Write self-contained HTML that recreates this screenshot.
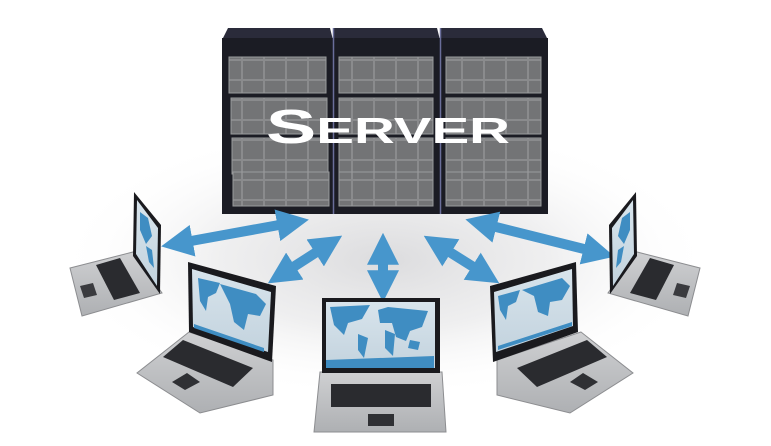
<!DOCTYPE html>
<html><head><meta charset="utf-8"><style>
html,body{margin:0;padding:0;background:#fff;}
svg{display:block;}
</style></head><body>
<svg width="771" height="446" viewBox="0 0 771 446" xmlns="http://www.w3.org/2000/svg">
<defs>
<radialGradient id="floor" cx="0.5" cy="0.5" r="0.5">
<stop offset="0" stop-color="#dcdcde" stop-opacity="1"/><stop offset="0.5" stop-color="#ebebec" stop-opacity="0.8"/><stop offset="1" stop-color="#ffffff" stop-opacity="0"/>
</radialGradient>
<linearGradient id="scr" x1="0" y1="0" x2="0" y2="1"><stop offset="0" stop-color="#d8e4ec"/><stop offset="1" stop-color="#c3d3de"/></linearGradient>
<linearGradient id="base" x1="0" y1="0" x2="0" y2="1"><stop offset="0" stop-color="#cfd0d2"/><stop offset="1" stop-color="#aeb0b3"/></linearGradient>
<pattern id="dr" width="22" height="20" patternUnits="userSpaceOnUse"><rect width="22" height="20" fill="#8a8b8d"/><rect x="1" y="1" width="20" height="18" fill="#737476"/></pattern>
<marker id="ah" viewBox="0 0 10 10" refX="4" refY="5" markerWidth="3.2" markerHeight="3.2" orient="auto-start-reverse"><path d="M0,0 L10,5 L0,10 z" fill="#4796cc"/></marker>
</defs>
<rect width="771" height="446" fill="#fff"/>
<ellipse cx="385" cy="260" rx="330" ry="140" fill="url(#floor)"/>
<!-- server -->
<g>
<polygon points="228,28 330,28 333,40 222,40" fill="#2a2b3a"/>
<polygon points="333,28 437,28 440,40 333,40" fill="#2a2b3a"/>
<polygon points="440,28 542,28 548,40 440,40" fill="#2a2b3a"/>
<rect x="222" y="38" width="111" height="176" fill="#1b1c24"/>
<rect x="334" y="38" width="106" height="176" fill="#1b1c24"/>
<rect x="441" y="38" width="107" height="176" fill="#1b1c24"/>
<line x1="333.5" y1="28" x2="333.5" y2="214" stroke="#6a6e9a" stroke-width="1.5"/>
<line x1="440.5" y1="28" x2="440.5" y2="214" stroke="#6a6e9a" stroke-width="1.5"/>
<g fill="url(#dr)" stroke="#9a9b9d" stroke-width="1">
<rect x="229" y="57" width="97" height="36"/><rect x="231" y="98" width="96" height="36"/><rect x="232" y="138" width="96" height="36"/><rect x="233" y="172" width="96" height="34"/>
<rect x="339" y="57" width="94" height="36"/><rect x="339" y="98" width="94" height="36"/><rect x="339" y="138" width="94" height="36"/><rect x="339" y="172" width="94" height="34"/>
<rect x="446" y="57" width="95" height="36"/><rect x="446" y="98" width="95" height="36"/><rect x="446" y="138" width="95" height="36"/><rect x="446" y="172" width="95" height="34"/>
</g>
<text x="388" y="143" text-anchor="middle" font-family="'Liberation Sans',sans-serif" font-weight="bold" fill="#fff" font-size="48" textLength="244" lengthAdjust="spacingAndGlyphs">S<tspan font-size="36">ERVER</tspan></text>
</g>
<!-- arrows -->
<g stroke="#4796cc" stroke-width="10" marker-start="url(#ah)" marker-end="url(#ah)">
<line x1="180" y1="243" x2="290" y2="223"/>
<line x1="284" y1="273" x2="326" y2="246"/>
<line x1="383" y1="252" x2="383" y2="283"/>
<line x1="440" y1="246" x2="483" y2="273"/>
<line x1="484" y1="224" x2="596" y2="252"/>
</g>
<!-- laptop 1 far left -->
<polygon points="70,268 133,252 162,293 82,316" fill="url(#base)" stroke="#8c8d90"/>
<polygon points="96,265 120,258 140,293 114,300" fill="#2a2b2f"/>
<polygon points="80,286 93,283 97,295 84,298" fill="#3a3b3f"/>
<polygon points="134,192 161,225 160,294 133,256" fill="#1a1a1e"/>
<polygon points="137,200 158,228 157,286 136,254" fill="url(#scr)"/>
<path d="M140,212 l8,6 l4,18 l-6,8 l-6,-14 z M146,246 l6,4 l2,18 l-5,-6 z" fill="#3f8dc2"/>
<!-- laptop 2 left mid -->
<polygon points="189,332 273,360 273,395 200,413 137,373" fill="url(#base)" stroke="#8c8d90"/>
<polygon points="163,357 183,340 253,368 233,387" fill="#2a2b2f"/>
<polygon points="172,382 187,373 200,382 185,390" fill="#2f3034"/>
<polygon points="188,262 276,286 272,362 189,332" fill="#1a1a1e"/>
<polygon points="192,269 271,292 268,352 193,327" fill="url(#scr)"/>
<path d="M198,278 l22,5 l-4,10 l-8,4 l-2,14 l-6,-10 z M220,284 l36,10 l10,10 l-6,12 l-12,-2 l-4,16 l-10,-8 l-4,-18 z M194,324 l70,24 l0,4 l-70,-24 z" fill="#3f8dc2"/>
<!-- laptop 3 center -->
<polygon points="320,372 442,372 446,432 314,432" fill="url(#base)" stroke="#8c8d90"/>
<rect x="331" y="384" width="100" height="23" fill="#2a2b2f"/>
<rect x="368" y="414" width="26" height="12" fill="#2f3034"/>
<rect x="322" y="298" width="118" height="75" fill="#1a1a1e"/>
<rect x="326" y="302" width="109" height="66" fill="url(#scr)"/>
<path d="M330,307 l40,-2 l-8,14 l-14,4 l-4,12 l-10,-10 z M358,334 l10,4 l-4,20 l-6,-8 z M378,310 l10,-3 l40,4 l-6,16 l-12,4 l-4,10 l-10,-4 l-4,-14 l-12,0 z M385,330 l10,4 l-2,22 l-8,-8 z M410,340 l10,2 l-2,8 l-10,-2 z M326,360 l108,-4 l0,12 l-108,0 z" fill="#3f8dc2"/>
<!-- laptop 4 right mid -->
<polygon points="581,332 497,360 497,395 570,413 633,373" fill="url(#base)" stroke="#8c8d90"/>
<polygon points="607,357 587,340 517,368 537,387" fill="#2a2b2f"/>
<polygon points="598,382 583,373 570,382 585,390" fill="#2f3034"/>
<polygon points="490,286 576,262 578,332 493,362" fill="#1a1a1e"/>
<polygon points="494,292 572,269 573,326 496,352" fill="url(#scr)"/>
<path d="M498,296 l22,-6 l-4,12 l-8,4 l-2,14 l-6,-10 z M522,290 l40,-12 l8,8 l-8,14 l-12,2 l-2,14 l-10,-4 l-4,-16 z M498,346 l74,-24 l0,4 l-74,24 z" fill="#3f8dc2"/>
<!-- laptop 5 far right -->
<polygon points="700,268 637,252 608,293 688,316" fill="url(#base)" stroke="#8c8d90"/>
<polygon points="674,265 650,258 630,293 656,300" fill="#2a2b2f"/>
<polygon points="690,286 677,283 673,295 686,298" fill="#3a3b3f"/>
<polygon points="636,192 609,225 610,294 637,256" fill="#1a1a1e"/>
<polygon points="633,200 612,228 613,286 634,254" fill="url(#scr)"/>
<path d="M630,212 l-8,6 l-4,18 l6,8 l6,-14 z M624,246 l-6,4 l-2,18 l5,-6 z" fill="#3f8dc2"/>
</svg>
</body></html>
